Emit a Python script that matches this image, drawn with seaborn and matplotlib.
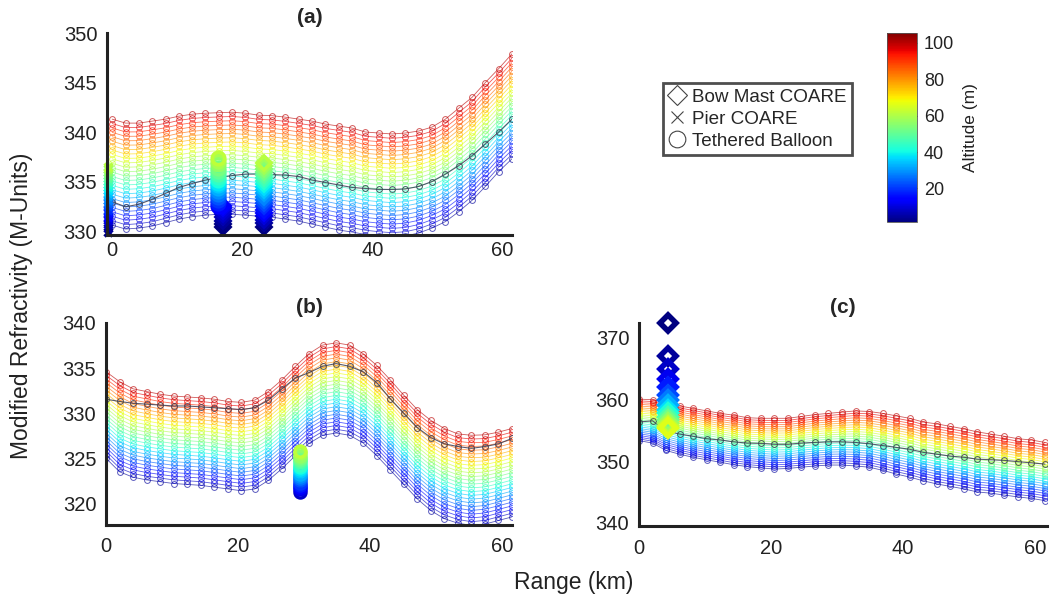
import numpy as np
import pandas as pd
import matplotlib
matplotlib.use("Agg")
import matplotlib.pyplot as plt
import seaborn as sns
from matplotlib.colors import Normalize
from matplotlib.lines import Line2D
from matplotlib.cm import ScalarMappable

sns.set_style("white")
plt.rcParams["font.family"] = ["Liberation Sans", "DejaVu Sans"]

# ---------------------------------------------------------------- data
range_km = [0.0, 2.05, 4.1, 6.15, 8.2, 10.25, 12.3, 14.35, 16.4, 18.45, 20.5,
            22.55, 24.6, 26.65, 28.7, 30.75, 32.8, 34.85, 36.9, 38.95, 41.0,
            43.05, 45.1, 47.15, 49.2, 51.25, 53.3, 55.35, 57.4, 59.45, 61.5]

altitudes_m = [4, 8, 12, 16, 20, 24, 28, 32, 36, 40, 44, 48, 52, 56, 60, 64,
               68, 72, 76, 80, 84, 88, 92, 96, 100]

# (a) modelled M at lowest / highest altitude and the reference profile line
a_low = [330.6, 330.2, 330.3, 330.5, 330.85, 331.2, 331.45, 331.6, 331.7, 331.7,
         331.6, 331.5, 331.4, 331.2, 331.0, 330.7, 330.4, 330.1, 329.9, 329.65,
         329.5, 329.4, 329.5, 329.8, 330.3, 330.95, 331.95, 333.1, 334.5, 336.0,
         337.3]
a_high = [341.3, 340.9, 340.9, 341.1, 341.3, 341.6, 341.8, 341.9, 341.95, 342.0,
          341.9, 341.7, 341.65, 341.5, 341.3, 341.1, 340.8, 340.6, 340.4, 340.0,
          339.9, 339.8, 339.9, 340.1, 340.5, 341.3, 342.4, 343.5, 345.0, 346.4,
          347.9]
a_ref = [332.96, 332.45, 332.7, 333.2, 333.8, 334.4, 334.8, 335.15, 335.4, 335.6,
         335.75, 335.75, 335.7, 335.65, 335.5, 335.15, 334.9, 334.65, 334.4, 334.3,
         334.2, 334.2, 334.25, 334.5, 335.0, 335.75, 336.6, 337.6, 338.8, 340.0,
         341.3]

# (b)
b_low = [325.0, 323.5, 322.9, 322.6, 322.4, 322.2, 322.1, 322.0, 321.8, 321.6,
         321.4, 321.6, 322.55, 323.85, 325.3, 326.65, 327.55, 327.8, 327.55, 326.7,
         325.3, 323.7, 322.1, 320.5, 319.2, 318.3, 317.8, 317.55, 317.7, 318.1,
         318.5]
b_high = [334.6, 333.5, 332.7, 332.4, 332.1, 331.9, 331.8, 331.7, 331.55, 331.3,
          331.2, 331.45, 332.4, 333.7, 335.2, 336.6, 337.55, 337.8, 337.55, 336.6,
          335.3, 333.7, 332.0, 330.4, 329.2, 328.3, 327.7, 327.55, 327.6, 327.9,
          328.3]
b_ref = [331.55, 331.3, 331.1, 331.0, 330.9, 330.8, 330.8, 330.7, 330.6, 330.5,
         330.4, 330.6, 331.45, 332.7, 333.9, 334.5, 335.2, 335.5, 335.2, 334.6,
         333.4, 331.6, 330.0, 328.4, 327.3, 326.6, 326.3, 326.1, 326.3, 326.6,
         327.2]

# (c)
c_low = [353.3, 352.9, 351.7, 351.1, 350.6, 350.2, 349.8, 349.4, 349.1, 348.9,
         348.7, 348.8, 349.0, 349.2, 349.35, 349.35, 349.2, 349.0, 348.5, 347.9,
         347.4, 346.8, 346.3, 345.9, 345.5, 345.0, 344.8, 344.5, 344.2, 343.95,
         343.6]
c_high = [360.0, 359.9, 359.4, 358.9, 358.5, 358.1, 357.7, 357.4, 357.0, 356.9,
          356.9, 356.9, 357.2, 357.5, 357.7, 357.9, 358.1, 358.0, 357.7, 357.3,
          356.9, 356.3, 356.0, 355.6, 355.2, 354.7, 354.35, 354.0, 353.6, 353.4,
          353.0]
c_ref = [356.3, 356.5, 354.9, 354.35, 354.0, 353.6, 353.4, 353.1, 352.9, 352.85,
         352.7, 352.7, 352.9, 353.0, 353.1, 353.1, 353.0, 352.8, 352.5, 352.2,
         351.9, 351.4, 351.1, 350.8, 350.6, 350.3, 350.2, 350.1, 349.9, 349.7,
         349.5]

# measured vertical profiles (range, altitude, M)
pier_a_range = -0.6
pier_a_alt = [1, 4, 7, 10, 13, 16, 19, 22, 25, 28, 31, 34, 37, 40, 43, 46, 49,
              52, 55, 58, 61]
pier_a_M = [329.9, 330.3, 330.7, 331.1, 331.45, 331.8, 332.15, 332.5, 332.85,
            333.15, 333.5, 333.8, 334.15, 334.45, 334.75, 335.05, 335.35, 335.65,
            335.95, 336.25, 336.5]

mast_a1_range = 17.0
mast_a1_alt = [1, 2, 4, 6, 8, 10, 12, 14]
mast_a1_M = [330.4, 330.7, 331.05, 331.4, 331.7, 332.0, 332.3, 332.55]

balloon_a_range = 16.3
balloon_a_alt = [14, 17, 20, 23, 26, 29, 32, 35, 38, 41, 44, 47, 50, 53, 56, 59, 62]
balloon_a_M = [332.5, 332.8, 333.1, 333.4, 333.7, 334.0, 334.3, 334.6, 334.9,
               335.2, 335.5, 335.8, 336.1, 336.4, 336.8, 337.1, 337.4]

mast_a2_range = 23.4
mast_a2_alt = [1, 4, 7, 10, 13, 16, 19, 22, 25, 28, 31, 34, 37, 40, 43, 46, 49,
               52, 55, 58, 61]
mast_a2_M = [330.4, 330.8, 331.15, 331.5, 331.85, 332.15, 332.5, 332.8, 333.15,
             333.45, 333.8, 334.1, 334.4, 334.75, 335.05, 335.35, 335.7, 336.0,
             336.3, 336.6, 336.9]

balloon_b_range = 29.4
balloon_b_alt = [8, 11, 14, 17, 20, 23, 26, 29, 32, 35, 38, 41, 44, 47, 50, 53,
                 56, 59, 62]
balloon_b_M = [321.3, 321.55, 321.8, 322.05, 322.3, 322.55, 322.8, 323.05, 323.3,
               323.55, 323.8, 324.05, 324.3, 324.55, 324.8, 325.05, 325.3, 325.55,
               325.8]

mast_c_range = 4.4
mast_c_alt = [1, 4, 8, 12, 17, 22, 27, 32, 37, 42, 47, 52, 57, 62, 66]
mast_c_M = [372.3, 367.0, 364.8, 363.2, 361.9, 360.7, 359.8, 359.0, 358.3, 357.7,
            357.1, 356.6, 356.1, 355.7, 355.4]

alt_norm = Normalize(1.5, 105.5)
JET = matplotlib.colormaps["jet"]


# ---------------------------------------------------------------- helpers
def profile_frame(low, high):
    """Long table of modelled M for every altitude level along the range."""
    low = np.asarray(low)
    high = np.asarray(high)
    z0, z1 = altitudes_m[0], altitudes_m[-1]
    rows = []
    for z in altitudes_m:
        m = low + (high - low) * (z - z0) / (z1 - z0)
        rows.append(pd.DataFrame({"range": range_km, "M": m, "alt": z}))
    return pd.concat(rows, ignore_index=True)


def color_edges(ax, start, clip=True):
    for ln in ax.lines[start:]:
        ln.set_markeredgecolor(ln.get_color())
        ln.set_clip_on(clip)


def draw_column(ax, rng, alts, ms, marker, size, mew, zorder):
    df = pd.DataFrame({"range": rng, "M": ms, "alt": alts})
    n0 = len(ax.lines)
    sns.lineplot(data=df, x="range", y="M", hue="alt", palette=JET,
                 hue_norm=alt_norm, estimator=None, legend=False, ax=ax,
                 marker=marker, markersize=size, markerfacecolor="none",
                 markeredgewidth=mew, linestyle="", zorder=zorder)
    color_edges(ax, n0, clip=False)


def draw_panel(ax, low, high, ref):
    df = profile_frame(low, high)
    n0 = len(ax.lines)
    sns.lineplot(data=df, x="range", y="M", hue="alt", palette=JET,
                 hue_norm=alt_norm, estimator=None, sort=False, legend=False,
                 ax=ax, marker="o", markersize=4.2, markerfacecolor="none",
                 markeredgewidth=0.7, linewidth=0.6, alpha=0.65, zorder=2)
    color_edges(ax, n0)
    ref_df = pd.DataFrame({"range": range_km, "M": ref})
    sns.lineplot(data=ref_df, x="range", y="M", ax=ax, color="#3c3f55",
                 marker="o", markersize=4.2, markerfacecolor="none",
                 markeredgecolor="#3c3f55", markeredgewidth=0.7,
                 linewidth=0.8, alpha=0.85, zorder=3)


def style_axes(ax, xlim, ylim, yticks, xpad):
    ax.set_xlim(*xlim)
    ax.set_ylim(*ylim)
    ax.set_xticks([0, 20, 40, 60])
    ax.set_yticks(yticks)
    ax.set_xlabel("")
    ax.set_ylabel("")
    for side in ("top", "right"):
        ax.spines[side].set_visible(False)
    for side in ("left", "bottom"):
        ax.spines[side].set_linewidth(2.2)
        ax.spines[side].set_color("#222222")
        ax.spines[side].set_zorder(6)
    ax.tick_params(direction="in", length=5, width=2.2, labelsize=14.5,
                   colors="#222222", labelcolor="#222222")
    ax.tick_params(axis="y", pad=7)
    ax.tick_params(axis="x", pad=xpad)


# ---------------------------------------------------------------- figure
W, H = 1052, 597
fig = plt.figure(figsize=(W / 100, H / 100), dpi=100)


def box(l, r, t, b):
    return [l / W, 1 - b / H, (r - l) / W, (b - t) / H]


ax_a = fig.add_axes(box(107, 512, 33, 235))
ax_b = fig.add_axes(box(106, 512, 323, 525))
ax_c = fig.add_axes(box(639, 1047, 323, 526))

# (a)
draw_panel(ax_a, a_low, a_high, a_ref)
draw_column(ax_a, [pier_a_range] * len(pier_a_alt), pier_a_alt, pier_a_M,
            "x", 6, 2.4, 4)
draw_column(ax_a, [mast_a1_range] * len(mast_a1_alt), mast_a1_alt, mast_a1_M,
            "D", 7.5, 2.6, 4)
draw_column(ax_a, [balloon_a_range] * len(balloon_a_alt), balloon_a_alt,
            balloon_a_M, "o", 9, 2.6, 5)
draw_column(ax_a, [mast_a2_range] * len(mast_a2_alt), mast_a2_alt, mast_a2_M,
            "D", 7.5, 2.6, 5)
style_axes(ax_a, (-0.8, 61.5), (329.6, 350), [330, 335, 340, 345, 350], 4.5)
ax_a.set_title("(a)", fontsize=15, fontweight="bold", pad=7)

# (b)
draw_panel(ax_b, b_low, b_high, b_ref)
draw_column(ax_b, [balloon_b_range] * len(balloon_b_alt), balloon_b_alt,
            balloon_b_M, "o", 8, 2.4, 5)
style_axes(ax_b, (0, 61.5), (317.6, 340), [320, 325, 330, 335, 340], 9)
ax_b.set_title("(b)", fontsize=15, fontweight="bold", pad=7)

# (c)
draw_panel(ax_c, c_low, c_high, c_ref)
draw_column(ax_c, [mast_c_range] * len(mast_c_alt), mast_c_alt, mast_c_M,
            "D", 8, 4.0, 5)
style_axes(ax_c, (0, 61.8), (339.5, 372.3), [340, 350, 360, 370], 9)
ax_c.set_title("(c)", fontsize=15, fontweight="bold", pad=7)

# shared axis labels
fig.text(22 / W, 1 - 306 / H, "Modified Refractivity (M-Units)", rotation=90,
         ha="center", va="center", fontsize=16.5, color="#222222")
fig.text(574 / W, 1 - 582 / H, "Range (km)", ha="center", va="center",
         fontsize=16.5, color="#222222")

# colour bar for altitude
cax = fig.add_axes(box(887, 917, 33, 222))
sm = ScalarMappable(norm=alt_norm, cmap=JET)
cb = fig.colorbar(sm, cax=cax, ticks=[20, 40, 60, 80, 100])
cb.outline.set_linewidth(0.6)
cb.outline.set_edgecolor("#555555")
cax.tick_params(direction="in", length=3, width=0.6, labelsize=13,
                colors="#222222", pad=5)
cb.set_label("Altitude (m)", fontsize=12.5, color="#222222", labelpad=6)

# legend for the measurement sources
handles = [
    Line2D([], [], linestyle="", marker="D", markersize=10, markerfacecolor="none",
           markeredgecolor="#444444", markeredgewidth=0.8, label="Bow Mast COARE"),
    Line2D([], [], linestyle="", marker="x", markersize=9, color="#444444",
           markeredgewidth=0.8, label="Pier COARE"),
    Line2D([], [], linestyle="", marker="o", markersize=12, markerfacecolor="none",
           markeredgecolor="#444444", markeredgewidth=0.8, label="Tethered Balloon"),
]
leg = fig.legend(handles=handles, loc="upper left",
                 bbox_to_anchor=(663 / W, 1 - 83 / H), fontsize=13.6,
                 frameon=True, fancybox=False, handlelength=0.9,
                 handletextpad=0.35, labelspacing=0.25, borderpad=0.3,
                 borderaxespad=0.0)
leg.get_frame().set_edgecolor("#222222")
leg.get_frame().set_linewidth(2.0)

fig.savefig("out.png", dpi=100)
